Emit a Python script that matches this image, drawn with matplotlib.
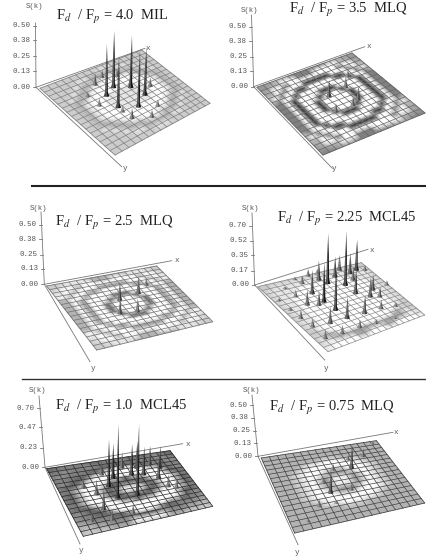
import numpy as np
import matplotlib
matplotlib.use('Agg')
import matplotlib.pyplot as plt

plt.rcParams['mathtext.fontset'] = 'stix'

titles = ['4.0  MIL', '3.5  MLQ', '2.5  MLQ', '2.25  MCL45', '1.0  MCL45', '0.75  MLQ']
z_ticks = [[0.00, 0.13, 0.25, 0.38, 0.50],
           [0.00, 0.13, 0.25, 0.38, 0.50],
           [0.00, 0.13, 0.25, 0.38, 0.50],
           [0.00, 0.17, 0.35, 0.52, 0.70],
           [0.00, 0.23, 0.47, 0.70],
           [0.00, 0.13, 0.25, 0.38, 0.50]]

# spikes of S(k): grid x, grid y, height
peaks_1 = [(8.3, 5.8, .46), (10.4, 7.3, .42), (6.3, 6.9, .42), (6.1, 10.1, .42), (8.5, 11.8, .46), (11.0, 10.1, .39),
           (8.4, 2.7, .06), (6.5, 3.7, .09), (10.4, 3.7, .05), (10.7, 6.7, .05), (13.0, 8.8, .07), (4.1, 5.4, .04),
           (4.2, 8.2, .06), (6.0, 11.3, .05), (6.2, 13.3, .08), (8.6, 14.9, .06), (10.9, 13.4, .05)]
peaks_2 = [(8.2, 7.6, .14), (11.7, 7.0, .09), (11.5, 10.5, .12), (10.1, 11.1, .07), (7.0, 11.1, .07), (13.7, 4.8, .05)]
peaks_3 = [(8.1, 7.5, .15), (11.5, 6.7, .14), (13.7, 4.9, .06), (6.6, 10.9, .12), (9.1, 11.4, .11)]
peaks_4 = [(9.3, 3.3, .59), (11.5, 4.9, .64), (15.8, 1.7, .36), (14.2, 2.2, .24), (6.3, 10.1, .49), (6.0, 7.5, .47),
           (3.8, 12.6, .20), (6.6, 12.7, .26), (11.6, 7.6, .29), (5.7, 4.8, .28), (4.9, 7.9, .16), (3.5, 7.1, .18),
           (13.1, 9.5, .24), (9.6, 12.9, .22), (12.7, 13.0, .10), (3.2, 4.5, .08), (1.0, 9.6, .10), (1.3, 12.1, .10),
           (1.3, 15.3, .10), (3.9, 15.5, .10), (6.9, 15.5, .09), (9.6, 15.9, .05), (15.2, 13.6, .05), (17.8, 7.7, .05),
           (8.6, 1.9, .23), (5.9, 1.7, .09), (5.5, .3, .03), (7.8, .2, .08), (9.4, .2, .06), (3.0, 1.9, .02),
           (.7, 4.4, .03), (.8, 7.2, .04), (11.4, 2.1, .24), (13.2, .6, .18), (17.1, 2.3, .06), (14.7, 8.0, .18),
           (14.5, 10.2, .12), (13.0, 16.3, .02), (13.5, 4.1, .16)]
peaks_5 = [(6.4, 10.8, .87), (9.1, 11.0, .83), (6.2, 7.4, .55), (7.4, 5.4, .41), (10.1, 5.3, .36), (11.4, 3.7, .32),
           (11.7, 5.9, .33), (13.5, 3.3, .22), (14.6, 4.8, .26), (3.9, 13.0, .24), (4.1, 9.0, .18), (13.4, 7.6, .28),
           (13.9, 10.4, .14), (6.2, 4.0, .16), (9.4, 3.0, .18), (4.2, 15.8, .12), (1.8, 15.1, .10), (7.1, 15.3, .10),
           (3.0, 6.7, .12), (14.9, 11.2, .12)]
peaks_6 = [(6.6, 11.5, .23), (11.4, 6.5, .23), (14.2, 3.9, .08), (8.7, 6.1, .06), (11.7, 4.1, .05), (6.4, 8.9, .05),
           (9.5, 11.7, .07), (4.3, 13.9, .07), (6.6, 13.9, .03), (2.1, 16.4, .03), (17.0, .8, .03)]

# surface shade on the grid nodes, 0 dark .. 9 white
shade_1 = ["7777777777777777777", "7777777778887777777", "7777788666668877777", "7777866688866687777",
           "7778668899988668777", "7786689999999866877", "7766899999999986677", "7768999888889998677",
           "7768998888888998677", "7768998888888998677", "7768998888888998677", "7768999888889998677",
           "7766899999999986677", "7786689999999866877", "7778668899988668777", "7777866688866687777",
           "7777788666668877777", "7777777788877777777", "7777777777777777777"]
shade_2 = ["5556664444444666555", "5566999444999996655", "5699499999999949965", "6694999111119994966",
           "6949911999991199496", "6499199999999919946", "4491999911199991944", "4491999199919991944",
           "4491991999991991944", "4491991999991991944", "4491991999991991944", "4491999199919991944",
           "4491999911199991944", "6499199999999919946", "6949911999991199496", "6694999111119994966",
           "5699499999999949965", "5566999444999996655", "4445554444444555444"]
shade_3 = ["7778886666666888777", "7788889666998888877", "7899699999999969987", "8896999555559996988",
           "8969955999995599698", "6699599999999959966", "6695999933399995966", "6695999399939995966",
           "6695993999993995966", "6695993999993995966", "6695993999993995966", "6695999399939995966",
           "6695999933399995966", "6699599999999959966", "8969955999995599698", "8896999555559996988",
           "7899699999999969987", "7788889666998888877", "7778886666666888777"]
shade_4 = ["7777777777777777777", "7788888888888888877", "7888888888888888887", "7888899999999888887",
           "7888999999999998887", "7889999999999999887", "7889999999999999887", "7889999999999999887",
           "7889999999999999887", "7889999999999999887", "7889999999999999887", "7889999999999999887",
           "7889999999999999887", "7799999999999999877", "7779999999999998777", "7866999999999966877",
           "7886665556665556887", "8899996699966999988", "8999999999999999998"]
shade_5 = ["3344433344433344433", "3444454444544445443", "4454444333334444544", "4544433699963344454",
           "4443369999999663444", "4533699999999996354", "4336999663669996334", "4469996333336999644",
           "4369963366633699634", "4369963699963699634", "4369963366633699634", "4469996333336999644",
           "4336999663669996334", "4533699999999996354", "5443369999999663445", "5544433699963344455",
           "6655444433344445566", "6766555999995556676", "7777666777766677777"]
shade_6 = ["6666666666666666666", "6666666666666666666", "6666666666666666666", "6666666677766666666",
           "6666678899988766666", "6666789999999876666", "6667899977799987666", "6667899755579987666",
           "6667897588857987666", "6667897589857987666", "6667897588857987666", "6667899755579987666",
           "6667899977799987666", "6666789999999876666", "6666678899988766666", "6666666677766666666",
           "6666666666666666666", "6666666666666666666", "6666666666666666666"]

peaks = [peaks_1, peaks_2, peaks_3, peaks_4, peaks_5, peaks_6]
shades = [shade_1, shade_2, shade_3, shade_4, shade_5, shade_6]

# layout in pixels of the page: plane corners, axes ends, label spots
planes = [[(40, 88.3), (141.7, 50), (210, 103.3), (115, 155)],
          [(257, 87.3), (352, 53), (425, 113), (323, 155)],
          [(46.7, 286), (156.7, 266), (212.7, 321.7), (96.7, 350)],
          [(258, 286.7), (361.3, 262.7), (424.7, 315), (328, 351.7)],
          [(46.7, 468.7), (170, 450.7), (212.7, 506.3), (83.3, 536.3)],
          [(261.3, 458), (376.3, 440.7), (424.7, 503), (294.7, 533)]]
origins = [(36, 87.3), (253.7, 86.7), (44.3, 284.3), (254.7, 285), (45, 467.3), (258, 456.3)]
x_ends = [(145, 48.3), (364.7, 46.7), (171.7, 260.7), (368, 249.3), (182.7, 443.7), (393, 432.3)]
y_ends = [(121.7, 166.7), (332.3, 168.3), (90, 361.7), (324.7, 360), (80, 544), (298, 544.7)]
z_ends = [(35.5, 23), (251.5, 15), (41, 212), (252, 213), (39, 396), (252, 395)]
z_lens = [61.7, 60, 59.3, 59.3, 59.3, 51]
sk_pos = [(34, 7), (249, 10), (38, 208), (250, 208), (37, 391), (251, 390)]
x_pos = [(148, 48), (369, 47), (177, 261), (372, 250), (188, 444), (396, 432)]
y_pos = [(125, 168), (334, 169), (93, 368), (326, 368), (81, 551), (297, 552)]
title_pos = [(112, 17), (348, 10), (114, 223), (347, 219), (121, 407), (332, 408)]
grid_col = ['#808080', '#666666', '#707070', '#8a8a8a', '#2a2a2a', '#404040']
N = 18
CELLS = 16


def homography(dst):
    src = [(0, 0), (N, 0), (N, N), (0, N)]
    A = []
    for (x, y), (u, v) in zip(src, dst):
        A.append([x, y, 1, 0, 0, 0, -u*x, -u*y, -u])
        A.append([0, 0, 0, x, y, 1, -v*x, -v*y, -v])
    return np.linalg.svd(np.array(A))[2][-1].reshape(3, 3)


def project(H, x, y):
    w = H[2, 0]*x + H[2, 1]*y + H[2, 2]
    return (H[0, 0]*x + H[0, 1]*y + H[0, 2])/w, (H[1, 0]*x + H[1, 1]*y + H[1, 2])/w


fig = plt.figure(figsize=(4.26, 5.57), dpi=100)
ax = fig.add_axes([0, 0, 1, 1])
ax.set_xlim(0, 426)
ax.set_ylim(557, 0)
ax.axis('off')

for p in range(6):
    H = homography(planes[p])
    gx, gy = np.meshgrid(np.arange(N + 1), np.arange(N + 1))
    px, py = project(H, gx, gy)
    vals = np.array([[int(c) for c in row] for row in shades[p]], dtype=float)
    ax.pcolormesh(px, py, vals, shading='gouraud', cmap='gray', vmin=-1, vmax=9, zorder=1)

    # grid lines
    for k in np.linspace(0, N, CELLS + 1):
        a, b = project(H, np.array([k, k]), np.array([0, N]))
        ax.plot(a, b, color=grid_col[p], lw=0.5, zorder=2)
        a, b = project(H, np.array([0, N]), np.array([k, k]))
        ax.plot(a, b, color=grid_col[p], lw=0.5, zorder=2)

    # axes
    o = origins[p]
    for end in (x_ends[p], y_ends[p], z_ends[p]):
        ax.plot([o[0], end[0]], [o[1], end[1]], color='#777777', lw=0.6, zorder=3)

    ticks = z_ticks[p]
    scale = z_lens[p]/ticks[-1]
    dx = (z_ends[p][0] - o[0])/(o[1] - z_ends[p][1])
    for t in ticks:
        ty = o[1] - t*scale
        tx = o[0] + dx*t*scale
        ax.plot([tx - 3, tx], [ty, ty], color='#777777', lw=0.6, zorder=3)
        ax.text(tx - 5.5, ty, '%.2f' % t, family='Liberation Mono', fontsize=5.4, color='#555555', ha='right', va='center')

    ax.text(*sk_pos[p], 'S(k)', family='Liberation Mono', fontsize=5.3, color='#555555', ha='center', va='center')
    ax.text(*x_pos[p], 'x', family='Liberation Mono', fontsize=5.5, color='#555555', ha='center', va='center')
    ax.text(*y_pos[p], 'y', family='Liberation Mono', fontsize=5.5, color='#555555', ha='center', va='center')
    ax.text(*title_pos[p], r'F$_{d}$  / F$_{p}$ = ' + titles[p], family='Liberation Serif', fontsize=10.5,
            color='#222222', ha='center', va='center')

    # spikes, back ones first; they lean outward with the perspective
    left_x, right_x = planes[p][0][0], planes[p][2][0]
    order = sorted(peaks[p], key=lambda q: project(H, q[0], q[1])[1])
    for u, v, h in order:
        bx, by = project(H, u, v)
        tall = h*scale
        lean = tall*(-0.03 + 0.1*(bx - left_x)/(right_x - left_x))
        g = np.clip(0.42 - 0.35*tall/35, 0.08, 0.42)
        mid = bx + 0.6*lean
        foot = min(tall*0.25, 4)
        left = [(bx - 2.8, by + 0.5), (bx - 1.4, by - foot), (mid - 0.8, by - tall*0.6),
                (bx + lean, by - tall), (bx, by + 1)]
        right = [(bx, by + 1), (bx + lean, by - tall), (mid + 0.8, by - tall*0.6), (bx + 1.4, by - foot),
                 (bx + 2.8, by + 0.5)]
        ax.fill(*zip(*left), color=str(min(g + 0.22, 0.8)), lw=0, zorder=4)
        ax.fill(*zip(*right), color=str(g), lw=0, zorder=4)

# separators
ax.plot([32, 426], [186, 186], color='#222222', lw=1.5, zorder=5)
ax.plot([22, 426], [379, 379], color='#333333', lw=1.0, zorder=5)

fig.savefig('out.png', dpi=100)
